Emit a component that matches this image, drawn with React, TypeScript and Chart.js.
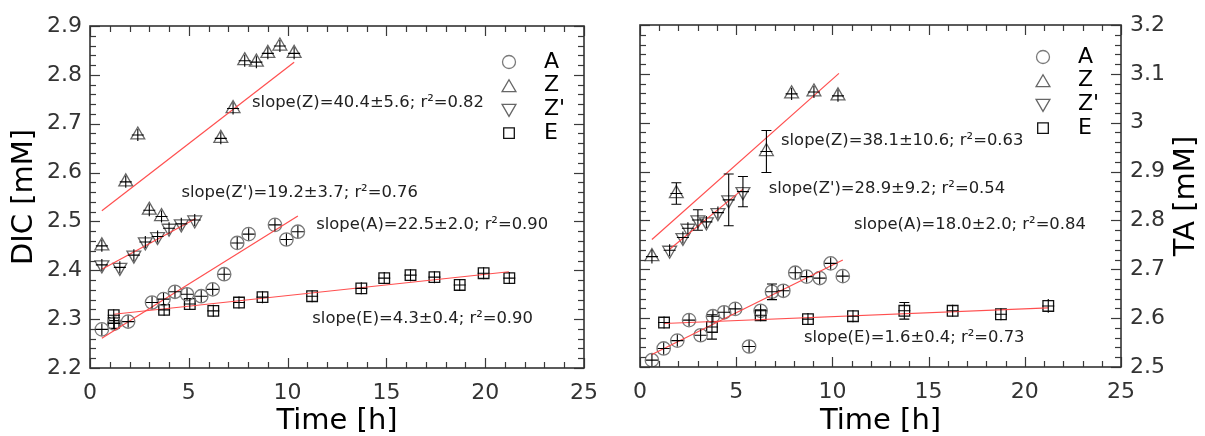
import React, { useEffect, useRef } from 'react';
import { Chart, registerables } from 'chart.js';

Chart.register(...registerables);
Chart.defaults.font.family = "'DejaVu Sans', 'Liberation Sans', sans-serif";

// ---------- shared axis ticks ----------
const timeTicks = [0, 5, 10, 15, 20, 25];
const timeTickLabels = ['0', '5', '10', '15', '20', '25'];
const dicTicks = [2.2, 2.3, 2.4, 2.5, 2.6, 2.7, 2.8, 2.9];
const dicTickLabels = ['2.2', '2.3', '2.4', '2.5', '2.6', '2.7', '2.8', '2.9'];
const taTicks = [2.5, 2.6, 2.7, 2.8, 2.9, 3.0, 3.1, 3.2];
const taTickLabels = ['2.5', '2.6', '2.7', '2.8', '2.9', '3', '3.1', '3.2'];
const seriesNames = ['A', 'Z', "Z'", 'E'];

// ---------- left panel: DIC ----------
const dicA_t = [0.6, 1.23, 1.93, 3.14, 3.72, 4.3, 4.91, 5.63, 6.21, 6.79, 7.45, 8.03, 9.36, 9.94, 10.52];
const dicA_v = [2.279, 2.291, 2.295, 2.334, 2.341, 2.356, 2.351, 2.347, 2.361, 2.392, 2.456, 2.474, 2.493, 2.463, 2.479];
const dicZ_t = [0.6, 1.81, 2.42, 3.0, 3.62, 6.62, 7.24, 7.83, 8.42, 9.0, 9.61, 10.33];
const dicZ_v = [2.45, 2.581, 2.677, 2.523, 2.51, 2.67, 2.731, 2.829, 2.826, 2.844, 2.859, 2.844];
const dicZp_t = [0.6, 1.51, 2.22, 2.8, 3.42, 4.0, 4.62, 5.3];
const dicZp_v = [2.411, 2.406, 2.431, 2.458, 2.469, 2.486, 2.495, 2.503];
const dicE_t = [1.2, 1.2, 3.75, 5.05, 6.24, 7.54, 8.73, 11.24, 13.73, 14.89, 16.22, 17.43, 18.71, 19.92, 21.22];
const dicE_v = [2.308, 2.292, 2.319, 2.331, 2.317, 2.334, 2.345, 2.347, 2.363, 2.384, 2.39, 2.386, 2.37, 2.394, 2.384];
// fit lines [start, end]
const dicFitA_t = [0.6, 10.52];
const dicFitA_v = [2.261, 2.511];
const dicFitZ_t = [0.6, 10.33];
const dicFitZ_v = [2.522, 2.826];
const dicFitZp_t = [0.6, 5.35];
const dicFitZp_v = [2.402, 2.506];
const dicFitE_t = [1.2, 21.2];
const dicFitE_v = [2.31, 2.397];
const dicNotes = [
  "slope(Z)=40.4±5.6; r²=0.82",
  "slope(Z')=19.2±3.7; r²=0.76",
  'slope(A)=22.5±2.0; r²=0.90',
  'slope(E)=4.3±0.4; r²=0.90',
];
const dicNoteX = [8.2, 4.63, 11.45, 11.25];
const dicNoteY = [2.742, 2.558, 2.493, 2.3];

// ---------- right panel: TA ----------
const taA_t = [0.62, 1.23, 1.94, 2.55, 3.15, 3.79, 4.37, 4.95, 5.67, 6.27, 6.86, 7.45, 8.07, 8.66, 9.34, 9.91, 10.54];
const taA_v = [2.514, 2.538, 2.554, 2.596, 2.565, 2.604, 2.612, 2.619, 2.542, 2.615, 2.654, 2.656, 2.693, 2.685, 2.682, 2.712, 2.686];
const taA_err = [0.01, 0.01, 0.01, 0.01, 0.01, 0.01, 0.01, 0.01, 0.01, 0.012, 0.016, 0.01, 0.01, 0.01, 0.01, 0.01, 0.01];
const taZ_t = [0.62, 1.89, 6.57, 7.88, 9.04, 10.29];
const taZ_v = [2.726, 2.855, 2.941, 3.059, 3.063, 3.055];
const taZ_err = [0.014, 0.022, 0.043, 0.01, 0.01, 0.01];
const taZp_t = [1.54, 2.23, 2.49, 3.01, 3.45, 4.05, 4.61, 5.35];
const taZp_v = [2.739, 2.765, 2.784, 2.801, 2.797, 2.816, 2.842, 2.859];
const taZp_err = [0.006, 0.01, 0.008, 0.021, 0.012, 0.01, 0.053, 0.031];
const taE_t = [1.25, 3.74, 6.27, 8.73, 11.07, 13.74, 16.25, 18.76, 21.22];
const taE_v = [2.591, 2.582, 2.606, 2.598, 2.604, 2.615, 2.615, 2.608, 2.625];
const taE_err = [0.01, 0.025, 0.01, 0.01, 0.01, 0.017, 0.01, 0.012, 0.014];
const taFitA_t = [0.59, 10.54];
const taFitA_v = [2.525, 2.719];
const taFitZ_t = [0.62, 10.34];
const taFitZ_v = [2.761, 3.101];
const taFitZp_t = [1.54, 5.35];
const taFitZp_v = [2.741, 2.864];
const taFitE_t = [1.25, 21.22];
const taFitE_v = [2.589, 2.621];
const taNotes = [
  "slope(Z)=38.1±10.6; r²=0.63",
  "slope(Z')=28.9±9.2; r²=0.54",
  'slope(A)=18.0±2.0; r²=0.84',
  'slope(E)=1.6±0.4; r²=0.73',
];
const taNoteX = [7.33, 6.69, 11.12, 8.52];
const taNoteY = [2.963, 2.864, 2.791, 2.559];

// ---------- helpers ----------
const pts = (t: number[], v: number[]) => t.map((x, i) => ({ x, y: v[i] }));

const MARK = [
  { style: 'circle', r: 6.7, color: '#7a7a7a', rot: 0 },
  { style: 'triangle', r: 8, color: '#666', rot: 0 },
  { style: 'triangle', r: 8, color: '#666', rot: 180 },
  { style: 'rect', r: 7.5, color: '#111', rot: 0 },
];

function fitDs(t: number[], v: number[]) {
  return {
    data: pts(t, v),
    showLine: true,
    borderColor: 'rgba(255,70,70,0.95)',
    borderWidth: 1.2,
    pointRadius: 0,
    fill: false,
  };
}

function markDs(k: number, t: number[], v: number[], err?: number[]) {
  const m = MARK[k];
  return {
    data: pts(t, v),
    showLine: false,
    pointStyle: m.style,
    pointRadius: m.r,
    pointRotation: m.rot,
    pointBorderColor: m.color,
    pointBackgroundColor: 'rgba(0,0,0,0)',
    pointBorderWidth: 1.3,
    borderColor: m.color,
    backgroundColor: 'rgba(0,0,0,0)',
    errY: err,
    crossHalf: 6,
    isMarker: true,
  };
}

function drawShape(ctx: CanvasRenderingContext2D, style: string, x: number, y: number, r: number, rot: number) {
  ctx.beginPath();
  if (style === 'circle') {
    ctx.arc(x, y, r, 0, Math.PI * 2);
  } else if (style === 'rect') {
    const s = r * Math.SQRT1_2;
    ctx.rect(x - s, y - s, 2 * s, 2 * s);
  } else {
    const base = rot ? Math.PI / 2 : -Math.PI / 2;
    for (let i = 0; i < 3; i++) {
      const a = base + (i * 2 * Math.PI) / 3;
      const px = x + r * Math.cos(a);
      const py = y + r * Math.sin(a);
      if (i === 0) ctx.moveTo(px, py);
      else ctx.lineTo(px, py);
    }
    ctx.closePath();
  }
  ctx.stroke();
}

const framePlugin = {
  id: 'frameTicks',
  afterDraw(chart: any) {
    const { ctx, chartArea } = chart;
    const { left, right, top, bottom } = chartArea;
    const xs = chart.scales.x;
    const ys = chart.scales.y;
    ctx.save();
    ctx.strokeStyle = '#3a3a3a';
    ctx.lineWidth = 1.2;
    const seg = (x1: number, y1: number, x2: number, y2: number) => {
      ctx.beginPath();
      ctx.moveTo(x1, y1);
      ctx.lineTo(x2, y2);
      ctx.stroke();
    };
    const nx = Math.round(xs.max - xs.min);
    for (let i = 0; i <= nx; i++) {
      const px = Math.round(xs.getPixelForValue(xs.min + i)) + 0.5;
      const len = i % 5 === 0 ? 10 : 6;
      seg(px, bottom, px, bottom - len);
      seg(px, top, px, top + len);
    }
    const ny = Math.round((ys.max - ys.min) / 0.02);
    for (let i = 0; i <= ny; i++) {
      const py = Math.round(ys.getPixelForValue(ys.min + i * 0.02)) + 0.5;
      const len = i % 5 === 0 ? 10 : 6;
      seg(left, py, left + len, py);
      seg(right, py, right - len, py);
    }
    ctx.lineWidth = 1.6;
    ctx.strokeStyle = '#333';
    ctx.strokeRect(left, top, right - left, bottom - top);
    ctx.restore();
  },
};

const errPlugin = {
  id: 'errBars',
  afterDatasetsDraw(chart: any) {
    const { ctx } = chart;
    const ys = chart.scales.y;
    ctx.save();
    ctx.strokeStyle = '#000';
    ctx.lineWidth = 1.1;
    chart.data.datasets.forEach((ds: any, i: number) => {
      if (!ds.isMarker) return;
      const meta = chart.getDatasetMeta(i);
      meta.data.forEach((el: any, j: number) => {
        const x = el.x;
        const y = el.y;
        const h = ds.crossHalf;
        let e = h;
        if (ds.errY) {
          const v = ds.data[j].y;
          e = Math.abs(ys.getPixelForValue(v + ds.errY[j]) - y);
        }
        const half = Math.max(e, h);
        ctx.beginPath();
        ctx.moveTo(x, y - half);
        ctx.lineTo(x, y + half);
        ctx.moveTo(x - h, y);
        ctx.lineTo(x + h, y);
        if (ds.errY && e > h + 1) {
          ctx.moveTo(x - 5, y - half);
          ctx.lineTo(x + 5, y - half);
          ctx.moveTo(x - 5, y + half);
          ctx.lineTo(x + 5, y + half);
        }
        ctx.stroke();
      });
    });
    ctx.restore();
  },
};

const textPlugin = {
  id: 'panelText',
  afterDraw(chart: any, _args: any, opts: any) {
    const { ctx, chartArea } = chart;
    const xs = chart.scales.x;
    const ys = chart.scales.y;
    ctx.save();
    // annotations
    ctx.fillStyle = '#222';
    ctx.font = "16.4px 'DejaVu Sans', sans-serif";
    ctx.textBaseline = 'middle';
    ctx.textAlign = 'left';
    opts.notes.forEach((s: string, i: number) => {
      ctx.fillText(s, xs.getPixelForValue(opts.noteX[i]), ys.getPixelForValue(opts.noteY[i]));
    });
    // legend
    const mx = chartArea.right - opts.legendRight;
    ctx.font = "22px 'DejaVu Sans', sans-serif";
    seriesNames.forEach((name, k) => {
      const y = chartArea.top + opts.legendTop + k * 23.7;
      const m = MARK[k];
      ctx.strokeStyle = m.color;
      ctx.lineWidth = 1.3;
      const r = m.style === 'circle' ? 6.5 : m.style === 'rect' ? 7.5 : 8;
      drawShape(ctx, m.style, mx, y + (m.style === 'triangle' ? (m.rot ? -1 : 2) : 0), r, m.rot);
      ctx.fillStyle = '#000';
      ctx.fillText(name, mx + 35, y);
    });
    // right-hand axis title
    if (opts.rightTitle) {
      ctx.save();
      ctx.translate(chart.width - 19, (chartArea.top + chartArea.bottom) / 2);
      ctx.rotate(-Math.PI / 2);
      ctx.textAlign = 'center';
      ctx.font = "29px 'DejaVu Sans', sans-serif";
      ctx.fillStyle = '#000';
      ctx.fillText(opts.rightTitle, 0, 0);
      ctx.restore();
    }
    ctx.restore();
  },
};

function labelFor(ticks: number[], labels: string[], v: number) {
  for (let i = 0; i < ticks.length; i++) if (Math.abs(ticks[i] - v) < 1e-6) return labels[i];
  return '';
}

function xScale(axisH: number) {
  return {
    type: 'linear',
    min: 0,
    max: 25,
    afterFit: (s: any) => {
      s.height = axisH;
    },
    afterBuildTicks: (s: any) => {
      s.ticks = timeTicks.map((v) => ({ value: v }));
    },
    grid: { display: false, drawTicks: false },
    border: { display: false },
    ticks: {
      padding: 12,
      color: '#333',
      font: { size: 22 },
      autoSkip: false,
      maxRotation: 0,
      callback: (v: number) => labelFor(timeTicks, timeTickLabels, v),
    },
    title: {
      display: true,
      text: 'Time [h]',
      color: '#000',
      font: { size: 29, lineHeight: 1 },
      padding: { top: 0, bottom: 0 },
    },
  };
}

function buildLeft() {
  return {
    type: 'scatter',
    data: {
      datasets: [
        fitDs(dicFitA_t, dicFitA_v),
        fitDs(dicFitZ_t, dicFitZ_v),
        fitDs(dicFitZp_t, dicFitZp_v),
        fitDs(dicFitE_t, dicFitE_v),
        markDs(0, dicA_t, dicA_v),
        markDs(1, dicZ_t, dicZ_v),
        markDs(2, dicZp_t, dicZp_v),
        markDs(3, dicE_t, dicE_v),
      ],
    },
    options: {
      animation: false,
      responsive: false,
      events: [],
      layout: { padding: { left: 0, right: 18, top: 26, bottom: 0 } },
      plugins: {
        legend: { display: false },
        tooltip: { enabled: false },
        panelText: {
          notes: dicNotes,
          noteX: dicNoteX,
          noteY: dicNoteY,
          legendRight: 75,
          legendTop: 36,
        },
      },
      scales: {
        x: xScale(68),
        y: {
          type: 'linear',
          position: 'left',
          min: 2.2,
          max: 2.9,
          afterFit: (s: any) => {
            s.width = 90;
          },
          afterBuildTicks: (s: any) => {
            s.ticks = dicTicks.map((v) => ({ value: v }));
          },
          grid: { display: false, drawTicks: false },
          border: { display: false },
          ticks: {
            padding: 8,
            color: '#333',
            font: { size: 22 },
            autoSkip: false,
            callback: (v: number) => labelFor(dicTicks, dicTickLabels, v),
          },
          title: {
            display: true,
            text: 'DIC [mM]',
            color: '#000',
            font: { size: 29, lineHeight: 1 },
            padding: { top: 10, bottom: 0 },
          },
        },
      },
    },
    plugins: [framePlugin, errPlugin, textPlugin],
  };
}

function buildRight() {
  return {
    type: 'scatter',
    data: {
      datasets: [
        fitDs(taFitA_t, taFitA_v),
        fitDs(taFitZ_t, taFitZ_v),
        fitDs(taFitZp_t, taFitZp_v),
        fitDs(taFitE_t, taFitE_v),
        markDs(0, taA_t, taA_v, taA_err),
        markDs(1, taZ_t, taZ_v, taZ_err),
        markDs(2, taZp_t, taZp_v, taZp_err),
        markDs(3, taE_t, taE_v, taE_err),
      ],
    },
    options: {
      animation: false,
      responsive: false,
      events: [],
      layout: { padding: { left: 30, right: 0, top: 25, bottom: 0 } },
      plugins: {
        legend: { display: false },
        tooltip: { enabled: false },
        panelText: {
          notes: taNotes,
          noteX: taNoteX,
          noteY: taNoteY,
          legendRight: 78,
          legendTop: 32,
          rightTitle: 'TA [mM]',
        },
      },
      scales: {
        x: xScale(69),
        y: {
          type: 'linear',
          position: 'right',
          min: 2.5,
          max: 3.2,
          afterFit: (s: any) => {
            s.width = 84;
          },
          afterBuildTicks: (s: any) => {
            s.ticks = taTicks.map((v) => ({ value: v }));
          },
          grid: { display: false, drawTicks: false },
          border: { display: false },
          ticks: {
            padding: 9,
            color: '#333',
            font: { size: 22 },
            autoSkip: false,
            callback: (v: number) => labelFor(taTicks, taTickLabels, v),
          },
          title: { display: false },
        },
      },
    },
    plugins: [framePlugin, errPlugin, textPlugin],
  };
}

export default function App() {
  const leftRef = useRef<HTMLCanvasElement>(null);
  const rightRef = useRef<HTMLCanvasElement>(null);

  useEffect(() => {
    const c1 = new Chart(leftRef.current as HTMLCanvasElement, buildLeft() as any);
    const c2 = new Chart(rightRef.current as HTMLCanvasElement, buildRight() as any);
    return () => {
      c1.destroy();
      c2.destroy();
    };
  }, []);

  return (
    <div style={{ position: 'fixed', left: 0, top: 0, width: 1205, height: 436, background: '#fff' }}>
      <canvas ref={leftRef} width={610} height={436} style={{ position: 'absolute', left: 0, top: 0, width: 610, height: 436 }} />
      <canvas ref={rightRef} width={595} height={436} style={{ position: 'absolute', left: 610, top: 0, width: 595, height: 436 }} />
    </div>
  );
}
